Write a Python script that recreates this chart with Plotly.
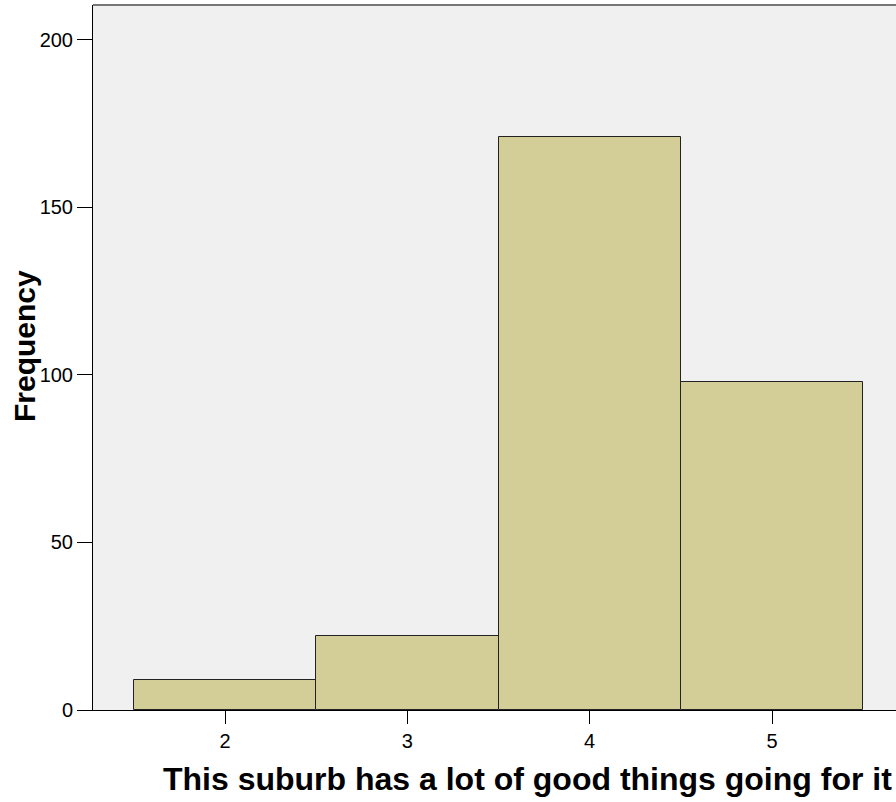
import plotly.graph_objects as go

categories = [2, 3, 4, 5]
frequencies = [9, 22, 171, 98]
y_ticks = [0, 50, 100, 150, 200]

W, H = 896, 802
L, R, T, B = 93, 0, 5, 92
pw, ph = W - L - R, H - T - B

def px_x(x):
    return (x - L) / pw

def px_y(y):
    return (H - B - y) / ph

fig = go.Figure()
fig.add_trace(go.Bar(
    x=categories, y=frequencies, width=1.0,
    marker=dict(color="#d3ce97", line=dict(color="#222222", width=1)),
))
fig.update_layout(
    width=W, height=H,
    margin=dict(l=L, r=R, t=T, b=B),
    paper_bgcolor="white", plot_bgcolor="#f0f0f0",
    showlegend=False, bargap=0,
    font=dict(family="Liberation Sans, Arial, sans-serif", color="black"),
    shapes=[dict(type="line", xref="paper", yref="paper", x0=0, x1=1, y0=1, y1=1,
                 line=dict(color="#777777", width=2))],
    annotations=[
        dict(text="<b>This suburb has a lot of good things going for it</b>",
             xref="paper", yref="paper", x=px_x(527), y=px_y(778.5),
             xanchor="center", yanchor="middle", showarrow=False,
             font=dict(size=32)),
        dict(text="<b>Frequency</b>", textangle=-90,
             xref="paper", yref="paper", x=px_x(24), y=px_y(346),
             xanchor="center", yanchor="middle", showarrow=False,
             font=dict(size=30)),
    ],
)
fig.update_xaxes(
    range=[1.276, 5.68], tickvals=categories, ticks="outside", ticklen=13,
    tickcolor="black", showgrid=False, zeroline=False,
    showline=True, linecolor="black", linewidth=1,
    tickfont=dict(size=20),
)
fig.update_yaxes(
    range=[0, 210.4], tickvals=y_ticks, ticks="outside", ticklen=15,
    tickcolor="black", showgrid=False, zeroline=False,
    showline=True, linecolor="black", linewidth=1,
    tickfont=dict(size=20),
)
fig.write_html("out.html", config={"displayModeBar": False},
               post_script="document.body.style.margin='0';")
